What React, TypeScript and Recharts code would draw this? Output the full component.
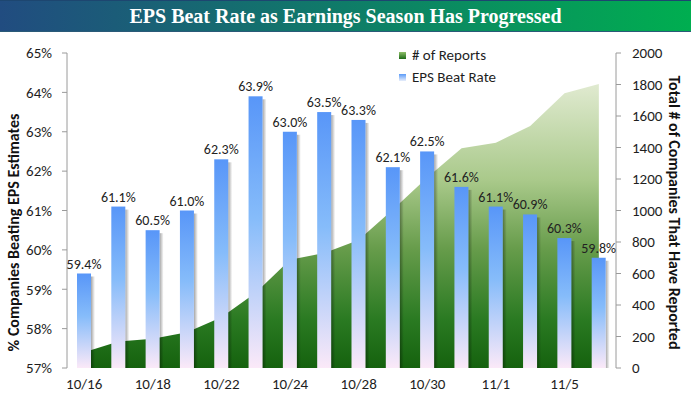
import {
  Area,
  Bar,
  ComposedChart,
  LabelList,
  Legend,
  XAxis,
  YAxis,
} from "recharts";

const categories = [
  "10/16", "10/17", "10/18", "10/21", "10/22", "10/23", "10/24", "10/25",
  "10/28", "10/29", "10/30", "10/31", "11/1", "11/4", "11/5", "11/6",
];
const beatRate = [
  59.4, 61.1, 60.5, 61.0, 62.3, 63.9, 63.0, 63.5,
  63.3, 62.1, 62.5, 61.6, 61.1, 60.9, 60.3, 59.8,
];
const reports = [
  100, 168, 185, 227, 322, 477, 688, 730,
  812, 1006, 1210, 1395, 1430, 1537, 1744, 1803,
];
const rateTicks = [57, 58, 59, 60, 61, 62, 63, 64, 65];
const countTicks = [0, 200, 400, 600, 800, 1000, 1200, 1400, 1600, 1800, 2000];

const data = categories.map((date, i) => ({
  date,
  rate: beatRate[i],
  reports: reports[i],
}));
const boundaryTicks = categories.map((_, i) => i).concat(categories.length);

const FONT = "Carlito, Lato, sans-serif";
const AXIS_COLOR = "#9a9a9a";

function BeatBar(props: any) {
  const { x, y, width, height } = props;
  if (height <= 0) return null;
  return (
    <g>
      <rect x={x + width} y={y + 3} width={4} height={height - 3} fill="url(#barShadow)" />
      <rect x={x} y={y} width={width} height={height} fill="url(#barGrad)" />
    </g>
  );
}

function LegendBox() {
  const row = (fill: string, text: string) => (
    <div style={{ display: "flex", alignItems: "center", height: 22 }}>
      <span style={{ width: 7, height: 7, background: fill, marginRight: 6 }} />
      <span style={{ fontSize: 15, color: "#1e1e1e" }}>{text}</span>
    </div>
  );
  return (
    <div style={{ fontFamily: FONT }}>
      {row("linear-gradient(#8fbf6a, #1d6a17)", "# of Reports")}
      {row("linear-gradient(#5b9bf8, #e8eefb)", "EPS Beat Rate")}
    </div>
  );
}

export default function App() {
  return (
    <div
      style={{
        position: "absolute",
        left: 0,
        top: 0,
        width: 691,
        height: 399,
        background: "#fff",
        fontFamily: FONT,
      }}
    >
      <div
        style={{
          position: "absolute",
          left: 0,
          top: 0,
          width: 691,
          height: 32,
          background: "linear-gradient(to right, #214c80, #0f7c68 50%, #00ae50)",
          borderTop: "1px solid #1d4670",
          borderBottom: "1px solid #2a5a78",
          boxSizing: "border-box",
          color: "#fff",
          textAlign: "center",
          fontFamily: "'Liberation Serif', serif",
          fontWeight: 700,
          fontSize: 20,
          lineHeight: "30px",
        }}
      >
        EPS Beat Rate as Earnings Season Has Progressed
      </div>
      <ComposedChart
        width={691}
        height={399}
        data={data}
        margin={{ top: 53, right: 0, bottom: 0, left: 0 }}
      >
        <defs>
          <linearGradient id="barGrad" x1="0" y1="0" x2="0" y2="1">
            <stop offset="0%" stopColor="#5896f8" />
            <stop offset="45%" stopColor="#86bcfa" />
            <stop offset="100%" stopColor="#fbe9f8" />
          </linearGradient>
          <linearGradient id="barShadow" x1="0" y1="0" x2="1" y2="0">
            <stop offset="0%" stopColor="#000" stopOpacity={0.35} />
            <stop offset="100%" stopColor="#000" stopOpacity={0} />
          </linearGradient>
          <linearGradient id="areaGrad" x1="0" y1="0" x2="0" y2="1">
            <stop offset="0%" stopColor="#e0ead0" />
            <stop offset="34%" stopColor="#a9c98a" />
            <stop offset="58%" stopColor="#679c4b" />
            <stop offset="83%" stopColor="#2a7a22" />
            <stop offset="100%" stopColor="#15620e" />
          </linearGradient>
        </defs>
        <XAxis
          xAxisId="grid"
          type="number"
          domain={[0, categories.length]}
          ticks={boundaryTicks}
          tick={false}
          tickSize={6}
          height={0}
          axisLine={{ stroke: AXIS_COLOR }}
          tickLine={{ stroke: AXIS_COLOR }}
        />
        <XAxis
          xAxisId="cat"
          dataKey="date"
          interval={1}
          height={31}
          axisLine={false}
          tickLine={false}
          tickMargin={4}
          tick={{ fontSize: 15, fill: "#1e1e1e", fontFamily: FONT }}
        />
        <YAxis
          yAxisId="rate"
          domain={[57, 65]}
          ticks={rateTicks}
          tickFormatter={(v: number) => `${v}%`}
          width={67}
          tickSize={5}
          tickMargin={10}
          axisLine={{ stroke: AXIS_COLOR }}
          tickLine={{ stroke: AXIS_COLOR }}
          tick={{ fontSize: 15, fill: "#1e1e1e", fontFamily: FONT }}
          label={{
            value: "% Companies Beating EPS Estimates",
            angle: -90,
            position: "center",
            dx: -20,
            dy: 22,
            style: { fontSize: 16, fontWeight: 700, fill: "#111", fontFamily: FONT },
          }}
        />
        <YAxis
          yAxisId="count"
          orientation="right"
          domain={[0, 2000]}
          ticks={countTicks}
          width={75}
          tickSize={5}
          tickMargin={11}
          axisLine={{ stroke: AXIS_COLOR }}
          tickLine={{ stroke: AXIS_COLOR }}
          tick={{ fontSize: 15, fill: "#1e1e1e", fontFamily: FONT, textAnchor: "start" }}
          label={{
            value: "Total # of Companies That Have Reported",
            angle: 90,
            position: "center",
            dx: 21,
            dy: 2,
            style: { fontSize: 16, fontWeight: 700, fill: "#111", fontFamily: FONT },
          }}
        />
        <Legend
          layout="vertical"
          align="center"
          verticalAlign="middle"
          content={() => <LegendBox />}
          wrapperStyle={{ left: 399, top: 44, width: 140 }}
        />
        <Area
          xAxisId="cat"
          yAxisId="count"
          type="linear"
          dataKey="reports"
          name="# of Reports"
          stroke="none"
          fill="url(#areaGrad)"
          fillOpacity={1}
          isAnimationActive={false}
        />
        <Bar
          xAxisId="cat"
          yAxisId="rate"
          dataKey="rate"
          name="EPS Beat Rate"
          barSize={14}
          fill="url(#barGrad)"
          shape={BeatBar}
          isAnimationActive={false}
        >
          <LabelList
            dataKey="rate"
            position="top"
            offset={5}
            formatter={(v: any) => `${Number(v).toFixed(1)}%`}
            style={{ fontSize: 14, fill: "#222", fontFamily: FONT }}
          />
        </Bar>
      </ComposedChart>
    </div>
  );
}
